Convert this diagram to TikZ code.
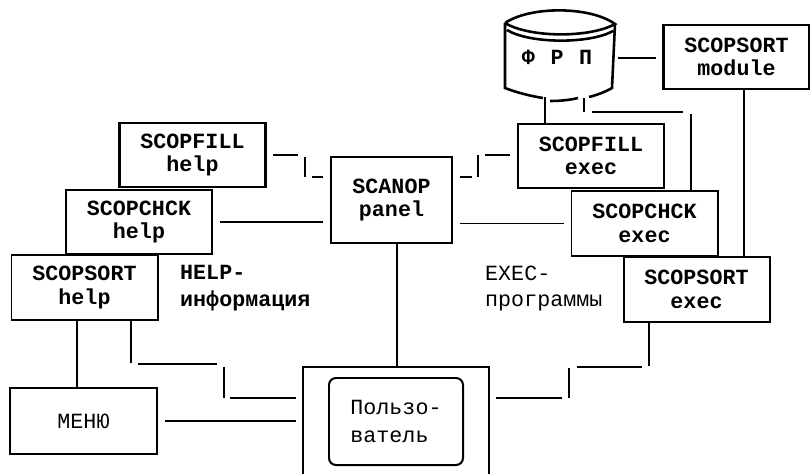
\documentclass[tikz,border=0pt]{standalone}
\usepackage{fontspec}
\setmainfont{Liberation Mono}
\usepackage{tikz}
\usetikzlibrary{positioning}

\begin{document}
\begin{tikzpicture}[
  x=0.03cm,y=-0.03cm,
  font=\fontsize{18.5}{20}\selectfont,
  thinBox/.style={draw=black,line width=1.7pt,minimum width=4.38cm,minimum height=1.93cm,
                  align=center,inner sep=0pt,font=\fontsize{18.5}{20}\selectfont\bfseries},
  boldBox/.style={thinBox,line width=2.2pt},
  menuBox/.style={thinBox,font=\fontsize{18.5}{20}\selectfont},
  conn/.style={draw=black,line width=1.7pt},
  gapA/.style={shorten <=2mm},
  gapB/.style={shorten >=2mm},
  note/.style={anchor=west,align=left,inner sep=0pt,font=\fontsize{18.5}{23}\selectfont},
]
\useasboundingbox (0,0) rectangle (810,474);

% LEFT: help stack
\node[boldBox] (fillh) at (192.5,155) {SCOPFILL\\help};
\node[thinBox] (chckh) at (139,222) {SCOPCHCK\\help};
\node[thinBox] (sorth) at (84.5,287.5) {SCOPSORT\\help};
\node[note,font=\fontsize{18.5}{23}\selectfont\bfseries] (helptxt) at (180,288) {HELP-\\информация};

% CENTER: panel and user
\node[thinBox,minimum width=3.63cm,minimum height=2.58cm] (panel) at (391.5,200) {SCANOP\\panel};
\node[menuBox,minimum width=4.41cm,minimum height=1.98cm] (menu) at (83.5,421) {МЕНЮ};
\node[minimum width=5.58cm,minimum height=3.21cm,inner sep=0pt] (frame) at (396,420.5) {};
\node[draw=black,line width=1.7pt,rounded corners=6pt,minimum width=4.02cm,minimum height=2.61cm,
      align=left,inner sep=0pt,font=\fontsize{18.5}{24}\selectfont] (user) at (396,421.5) {Пользо-\\ватель};
\draw[conn] (frame.south west) |- (frame.north east) -- (frame.south east);

% RIGHT: exec stack
\node[boldBox] (fille) at (591,156) {SCOPFILL\\exec};
\node[thinBox] (chcke) at (644.5,223.5) {SCOPCHCK\\exec};
\node[thinBox] (sorte) at (696.5,289.5) {SCOPSORT\\exec};
\node[boldBox] (module) at (736.5,57) {SCOPSORT\\module};
\node[note] (exectxt) at (485,288.5) {EXEC-\\программы};

% Drum
\node[inner sep=0pt,minimum width=3.3cm,minimum height=2.7cm,
      font=\fontsize{18.5}{20}\selectfont\bfseries] (frp) at (557,57) {Ф\hspace{0.72em}Р\hspace{0.72em}П};
\draw[conn,line width=2.2pt]
  (505,23) .. controls (530,6) and (590,6) .. (615,24)
  .. controls (590,38) and (530,38) .. (505,23)
  (507,30) .. controls (530,44) and (590,44) .. (613,31)
  (505,23) -- (505,88) .. controls (515,92) and (530,96) .. (543,98)
  (615,24) -- (612,88) .. controls (605,92) and (597,95) .. (589,97)
  (550,101) .. controls (560,101) and (570,100) .. (578,98);

% Help side connectors
\coordinate (a1) at (298,155);
\coordinate (a2) at (305,157);
\coordinate (a3) at (305,177);
\coordinate (a4) at (312,177);
\draw[conn,gapA] (fillh.east) -- (a1);
\draw[conn] (a2) -- (a3);
\draw[conn,gapB] (a4) -- (a4 -| panel.west);
\draw[conn,gapA,gapB] (chckh.east) -- (chckh.east -| panel.west);

% Exec side connectors
\coordinate (b1) at (472,177);
\coordinate (b2) at (478,155);
\coordinate (b3) at (478,177);
\coordinate (b4) at (485,155);
\draw[conn,gapA] (b1 -| panel.east) -- (b1);
\draw[conn] (b2) -- (b3);
\draw[conn,gapB] (b4) -- (b4 -| fille.west);
\draw[conn,gapA,gapB] (panel.east |- chcke.west) -- (chcke.west);

% Lower left connectors
\coordinate (c0) at (77,320);
\coordinate (c1) at (131,320);
\coordinate (c2) at (131,363);
\coordinate (c3) at (138,364);
\coordinate (c4) at (217,364);
\coordinate (c5) at (224,367);
\coordinate (c6) at (224,398);
\coordinate (c7) at (230,398);
\draw[conn] (c0 |- sorth.south) -- (c0 |- menu.north);
\draw[conn] (c1) -- (c2);
\draw[conn] (c3) -- (c4);
\draw[conn] (c5) -- (c6);
\draw[conn,gapB] (c7) -- (c7 -| frame.west);
\draw[conn,gapA,gapB] (menu.east) -- (menu.east -| frame.west);
\coordinate (c8) at (397,300);
\draw[conn] (c8 |- panel.south) -- (c8 |- frame.north);

% Lower right connectors
\coordinate (d1) at (562,398);
\coordinate (d2) at (569,368);
\coordinate (d3) at (569,398);
\coordinate (d4) at (577,367);
\coordinate (d5) at (642,367);
\coordinate (d6) at (649,322);
\coordinate (d7) at (649,366);
\draw[conn,gapA] (d1 -| frame.east) -- (d1);
\draw[conn] (d2) -- (d3);
\draw[conn] (d4) -- (d5);
\draw[conn] (d6) -- (d7);

% Drum and module connectors
\coordinate (e0) at (545,97);
\coordinate (e1) at (584,98);
\coordinate (e2) at (584,112);
\coordinate (e3) at (592,112);
\coordinate (e4) at (683,112);
\coordinate (e5) at (691,114);
\coordinate (e6) at (691,192);
\coordinate (e7) at (744,100);
\coordinate (e8) at (618,58);
\draw[conn] (e0) -- (e0 |- fille.north);
\draw[conn] (e1) -- (e2);
\draw[conn] (e3) -- (e4);
\draw[conn] (e5) -- (e6);
\draw[conn] (e7 |- module.south) -- (e7 |- sorte.north);
\draw[conn,gapB] (e8) -- (e8 -| module.west);
\end{tikzpicture}
\end{document}
